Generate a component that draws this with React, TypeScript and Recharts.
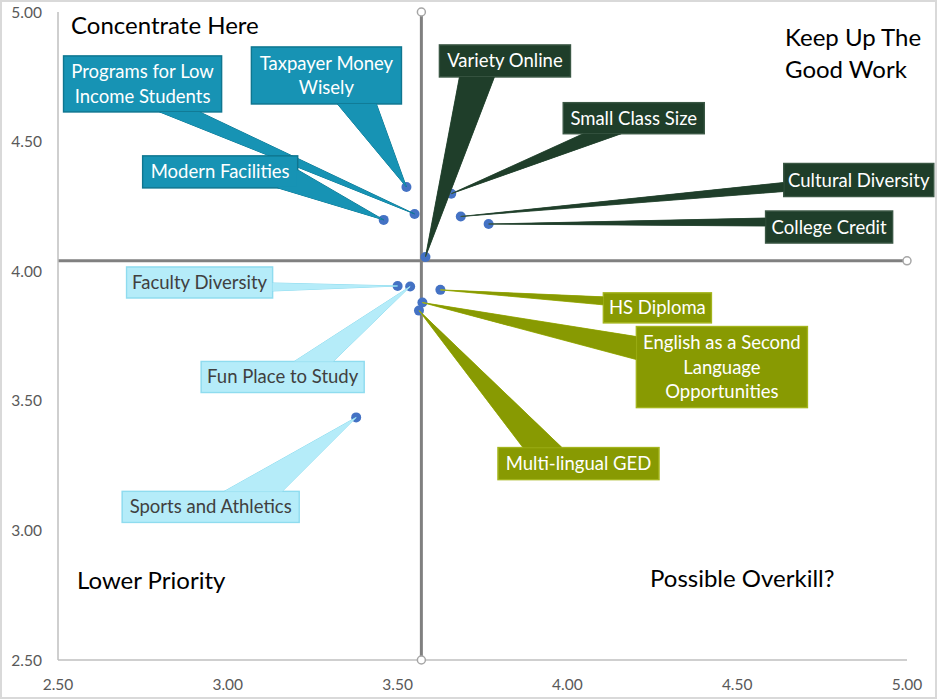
import {
  ScatterChart,
  Scatter,
  XAxis,
  YAxis,
  ReferenceLine,
  ReferenceDot,
} from 'recharts'

// survey items: importance (y) vs performance (x)
const itemLabels = [
  'Taxpayer Money\nWisely',
  'Programs for Low\nIncome Students',
  'Modern Facilities',
  'Variety Online',
  'Small Class Size',
  'Cultural Diversity',
  'College Credit',
  'Faculty Diversity',
  'Fun Place to Study',
  'Sports and Athletics',
  'HS Diploma',
  'English as a Second\nLanguage\nOpportunities',
  'Multi-lingual GED',
]
const xValues = [3.526, 3.55, 3.459, 3.582, 3.658, 3.686, 3.768, 3.5, 3.537, 3.378, 3.626, 3.573, 3.563]
const yValues = [4.325, 4.221, 4.198, 4.055, 4.299, 4.211, 4.182, 3.943, 3.941, 3.436, 3.928, 3.879, 3.848]
const quadrants = ['concentrate', 'concentrate', 'concentrate', 'keep', 'keep', 'keep', 'keep', 'lower', 'lower', 'lower', 'overkill', 'overkill', 'overkill']

const xMean = 3.57
const yMean = 4.04
const axisTicks = [2.5, 3, 3.5, 4, 4.5, 5]

const COLORS: Record<string, { fill: string; stroke: string; text: string }> = {
  concentrate: { fill: '#1793b4', stroke: '#0f7690', text: '#ffffff' },
  keep: { fill: '#1f3e2a', stroke: '#3a5744', text: '#ffffff' },
  lower: { fill: '#b5ecf9', stroke: '#8fdcef', text: '#404040' },
  overkill: { fill: '#889a02', stroke: '#a3b41c', text: '#ffffff' },
}

// callout box offsets from the point (px): dx, dy, w, h, wedge base points relative to box
const CALLOUTS = [
  { dx: -155, dy: -140, w: 150, h: 57, base: [86, 57, 125, 57] },
  { dx: -351, dy: -158, w: 158, h: 56, base: [96, 56, 136, 56] },
  { dx: -241, dy: -64, w: 155, h: 32, base: [155, 14, 135, 32] },
  { dx: 14, dy: -212, w: 131, h: 32, base: [20, 32, 55, 32] },
  { dx: 112, dy: -91, w: 141, h: 31, base: [20, 31, 58, 31] },
  { dx: 323, dy: -53, w: 150, h: 33, base: [0, 19, 0, 28] },
  { dx: 277, dy: -13, w: 127, h: 32, base: [0, 7, 0, 15] },
  { dx: -271, dy: -19, w: 146, h: 31, base: [146, 16, 146, 24] },
  { dx: -209, dy: 75, w: 163, h: 31, base: [93, 0, 132, 0] },
  { dx: -234, dy: 74, w: 177, h: 31, base: [102, 0, 160, 0] },
  { dx: 163, dy: 3, w: 108, h: 30, base: [0, 4, 0, 12] },
  { dx: 214, dy: 24, w: 171, h: 81, base: [0, 10, 0, 33] },
  { dx: 79, dy: 137, w: 161, h: 32, base: [25, 0, 64, 0] },
]

const FONT = 'Lato, "Open Sans", sans-serif'

const points = itemLabels.map((label, i) => ({
  idx: i,
  label,
  x: xValues[i],
  y: yValues[i],
  quadrant: quadrants[i],
}))

const Dot = (props: any) => {
  const { cx, cy } = props
  if (cx == null || cy == null) return null
  return <circle cx={cx} cy={cy} r={5} fill="#4472c4" />
}

const Callout = (props: any) => {
  const { cx, cy, payload } = props
  if (cx == null || cy == null || !payload) return null
  const c = CALLOUTS[payload.idx]
  const col = COLORS[payload.quadrant]
  const bx = cx + c.dx
  const by = cy + c.dy
  const lines = payload.label.split('\n')
  const lh = 24.5
  const first = by + c.h / 2 - ((lines.length - 1) * lh) / 2 + 6.5
  const wedge = `${bx + c.base[0]},${by + c.base[1]} ${cx},${cy} ${bx + c.base[2]},${by + c.base[3]}`
  return (
    <g>
      <polygon points={wedge} fill={col.fill} stroke={col.stroke} strokeWidth={1} />
      <rect x={bx} y={by} width={c.w} height={c.h} fill={col.fill} stroke={col.stroke} strokeWidth={1.5} />
      <polygon points={wedge} fill={col.fill} stroke="none" />
      <rect x={bx + 1} y={by + 1} width={c.w - 2} height={c.h - 2} fill={col.fill} />
      {lines.map((ln: string, k: number) => (
        <text
          key={k}
          x={bx + c.w / 2}
          y={first + k * lh}
          textAnchor="middle"
          fill={col.text}
          fontSize={18.5}
          fontFamily={FONT}
        >
          {ln}
        </text>
      ))}
    </g>
  )
}

const quadLabel = (text: string, left: number, top: number) => (
  <div
    style={{
      position: 'absolute',
      left,
      top,
      fontFamily: FONT,
      fontSize: 24,
      color: '#000',
      lineHeight: '32px',
      whiteSpace: 'pre',
    }}
  >
    {text}
  </div>
)

export default function App() {
  return (
    <div style={{ position: 'absolute', left: 0, top: 0, width: 937, height: 699, background: '#fff' }}>
      <ScatterChart width={937} height={699} margin={{ top: 12, right: 30, left: 0, bottom: 0 }}>
        <XAxis
          type="number"
          dataKey="x"
          domain={[2.5, 5]}
          ticks={axisTicks}
          tickFormatter={(v: number) => v.toFixed(2)}
          height={39}
          tickLine={false}
          tickMargin={13}
          axisLine={{ stroke: '#bfbfbf', strokeWidth: 1.5 }}
          tick={{ fill: '#595959', fontSize: 15.5, fontFamily: FONT }}
        />
        <YAxis
          type="number"
          dataKey="y"
          domain={[2.5, 5]}
          ticks={axisTicks}
          tickFormatter={(v: number) => v.toFixed(2)}
          width={58}
          tickLine={false}
          tickMargin={10}
          axisLine={{ stroke: '#bfbfbf', strokeWidth: 1.5 }}
          tick={{ fill: '#595959', fontSize: 15.5, fontFamily: FONT }}
        />
        <ReferenceLine x={xMean} stroke="#808080" strokeWidth={3} />
        <ReferenceLine y={yMean} stroke="#808080" strokeWidth={3} />
        <ReferenceDot x={xMean} y={5} r={4} fill="#fff" stroke="#a6a6a6" strokeWidth={1.5} ifOverflow="visible" />
        <ReferenceDot x={xMean} y={2.5} r={4} fill="#fff" stroke="#a6a6a6" strokeWidth={1.5} ifOverflow="visible" />
        <ReferenceDot x={5} y={yMean} r={4} fill="#fff" stroke="#a6a6a6" strokeWidth={1.5} ifOverflow="visible" />
        <Scatter data={points} shape={Dot} isAnimationActive={false} />
        <Scatter data={points} shape={Callout} isAnimationActive={false} />
      </ScatterChart>
      {quadLabel('Concentrate Here', 71, 9)}
      {quadLabel('Keep Up The\nGood Work', 785, 21)}
      {quadLabel('Lower Priority', 77, 564)}
      {quadLabel('Possible Overkill?', 650, 562)}
      <div
        style={{
          position: 'absolute',
          left: 0,
          top: 0,
          width: 937,
          height: 699,
          boxSizing: 'border-box',
          border: '2px solid #d9d9d9',
          pointerEvents: 'none',
        }}
      />
    </div>
  )
}
